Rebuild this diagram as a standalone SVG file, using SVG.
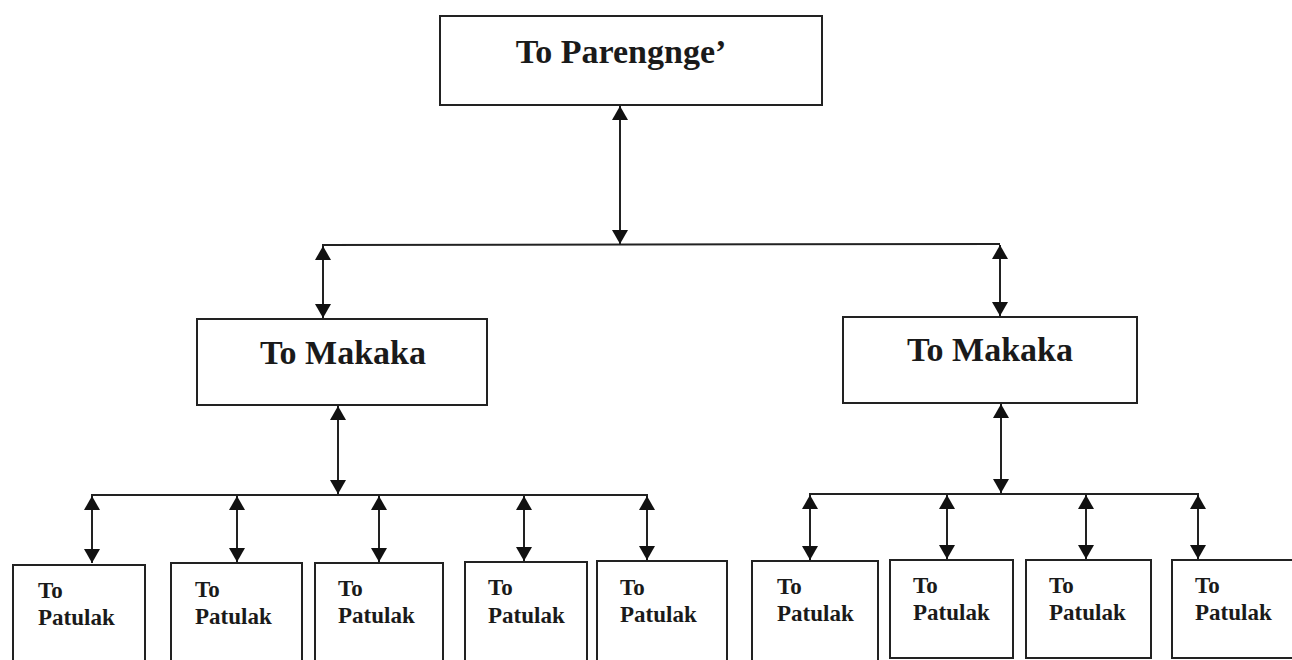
<svg xmlns="http://www.w3.org/2000/svg" width="1292" height="660" viewBox="0 0 1292 660">
<defs>
<marker id="ah" viewBox="0 0 14 16" refX="14" refY="8" markerWidth="14" markerHeight="16" markerUnits="userSpaceOnUse" orient="auto-start-reverse">
<path d="M0,0 L14,8 L0,16 Z" fill="#111"/>
</marker>
</defs>
<style>
.box{fill:#fff;stroke:#222;stroke-width:2}
.ln{stroke:#222;stroke-width:2;fill:none}
.ar{stroke:#222;stroke-width:2;fill:none;marker-start:url(#ah);marker-end:url(#ah)}
.big{font-family:"Liberation Serif",serif;font-weight:bold;font-size:34px;fill:#1a1a1a;text-anchor:middle}
.sm{font-family:"Liberation Serif",serif;font-weight:bold;font-size:23px;fill:#1a1a1a}
</style>
<rect width="1292" height="660" fill="#fff"/>
<g id="connectors">
<line class="ar" x1="620" y1="106" x2="620" y2="244"/>
<line class="ln" x1="322" y1="245" x2="1000" y2="244"/>
<line class="ar" x1="323" y1="246" x2="323" y2="318"/>
<line class="ar" x1="1000" y1="245" x2="1000" y2="316"/>
<line class="ar" x1="338" y1="406" x2="338" y2="494"/>
<line class="ln" x1="91" y1="495" x2="648" y2="495"/>
<line class="ar" x1="92" y1="496" x2="92" y2="563"/>
<line class="ar" x1="237" y1="496" x2="237" y2="562"/>
<line class="ar" x1="379" y1="496" x2="379" y2="562"/>
<line class="ar" x1="524" y1="496" x2="524" y2="561"/>
<line class="ar" x1="647" y1="496" x2="647" y2="560"/>
<line class="ar" x1="1001" y1="404" x2="1001" y2="493"/>
<line class="ln" x1="809" y1="494" x2="1199" y2="494"/>
<line class="ar" x1="810" y1="495" x2="810" y2="560"/>
<line class="ar" x1="947" y1="495" x2="947" y2="559"/>
<line class="ar" x1="1086" y1="495" x2="1086" y2="559"/>
<line class="ar" x1="1198" y1="495" x2="1198" y2="559"/>
</g>
<g id="n-parengnge">
<rect class="box" x="440" y="16" width="382" height="89"/>
<text class="big" x="621" y="63">To Parengnge’</text>
</g>
<g id="n-makaka-1">
<rect class="box" x="197" y="319" width="290" height="86"/>
<text class="big" x="343" y="364">To Makaka</text>
</g>
<g id="n-makaka-2">
<rect class="box" x="843" y="317" width="294" height="86"/>
<text class="big" x="990" y="361">To Makaka</text>
</g>
<g id="n-patulak-1">
<rect class="box" x="13" y="565" width="132" height="100"/>
<text class="sm" x="38" y="598">To</text>
<text class="sm" x="38" y="625">Patulak</text>
</g>
<g id="n-patulak-2">
<rect class="box" x="171" y="563" width="131" height="102"/>
<text class="sm" x="195" y="597">To</text>
<text class="sm" x="195" y="624">Patulak</text>
</g>
<g id="n-patulak-3">
<rect class="box" x="315" y="563" width="128" height="102"/>
<text class="sm" x="338" y="596">To</text>
<text class="sm" x="338" y="623">Patulak</text>
</g>
<g id="n-patulak-4">
<rect class="box" x="465" y="562" width="122" height="103"/>
<text class="sm" x="488" y="595">To</text>
<text class="sm" x="488" y="623">Patulak</text>
</g>
<g id="n-patulak-5">
<rect class="box" x="597" y="561" width="130" height="104"/>
<text class="sm" x="620" y="595">To</text>
<text class="sm" x="620" y="622">Patulak</text>
</g>
<g id="n-patulak-6">
<rect class="box" x="752" y="561" width="126" height="104"/>
<text class="sm" x="777" y="594">To</text>
<text class="sm" x="777" y="621">Patulak</text>
</g>
<g id="n-patulak-7">
<rect class="box" x="890" y="560" width="123" height="98"/>
<text class="sm" x="913" y="593">To</text>
<text class="sm" x="913" y="620">Patulak</text>
</g>
<g id="n-patulak-8">
<rect class="box" x="1026" y="560" width="125" height="98"/>
<text class="sm" x="1049" y="593">To</text>
<text class="sm" x="1049" y="620">Patulak</text>
</g>
<g id="n-patulak-9">
<rect class="box" x="1172" y="560" width="130" height="98"/>
<text class="sm" x="1195" y="593">To</text>
<text class="sm" x="1195" y="620">Patulak</text>
</g>
</svg>
